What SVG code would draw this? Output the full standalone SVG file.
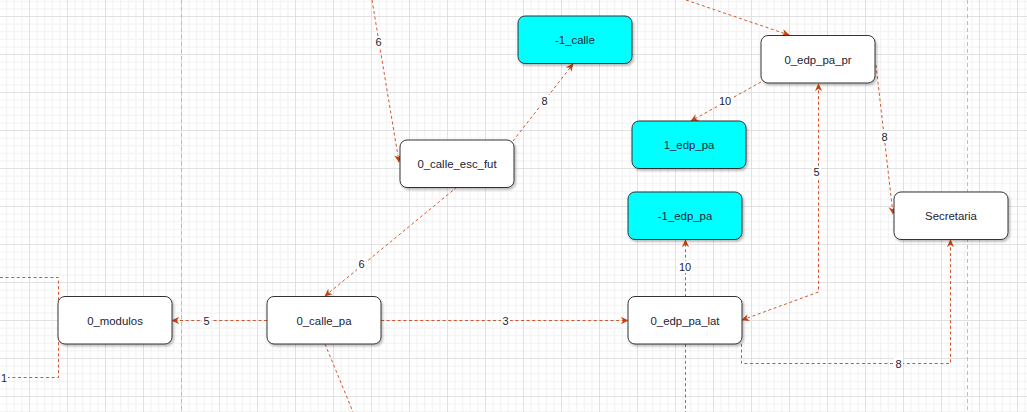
<svg xmlns="http://www.w3.org/2000/svg" width="1027" height="412" viewBox="0 0 1027 412">
  <defs>
    <!-- background grid: major cell 38px, minor step 7.6px -->
    <pattern id="grid" patternUnits="userSpaceOnUse" x="29" y="16" width="38" height="38">
      <rect width="38" height="38" fill="#ffffff"/>
      <g fill="#f2f2f2">
        <rect x="7.6" y="0" width="1" height="38"/>
        <rect x="15.2" y="0" width="1" height="38"/>
        <rect x="22.8" y="0" width="1" height="38"/>
        <rect x="30.4" y="0" width="1" height="38"/>
        <rect x="0" y="7.6" width="38" height="1"/>
        <rect x="0" y="15.2" width="38" height="1"/>
        <rect x="0" y="22.8" width="38" height="1"/>
        <rect x="0" y="30.4" width="38" height="1"/>
      </g>
      <g fill="#e1e1e1">
        <rect x="0" y="0" width="1" height="38"/>
        <rect x="0" y="0" width="38" height="1"/>
      </g>
    </pattern>
    <filter id="shadow" x="-10%" y="-10%" width="130%" height="140%">
      <feDropShadow dx="1.5" dy="2" stdDeviation="0.9" flood-color="#000" flood-opacity="0.25"/>
    </filter>
    <marker id="arrow" viewBox="0 0 10 10" refX="9" refY="5" markerWidth="8" markerHeight="8" markerUnits="userSpaceOnUse" orient="auto-start-reverse">
      <path d="M0,0.5 L10,5 L0,9.5 L3,5 Z" fill="#c8400f"/>
    </marker>
    <style>
      .node rect { stroke: #333333; stroke-width: 1; filter: url(#shadow); }
      .plain rect { fill: #ffffff; }
      .cyan rect { fill: #00ffff; }
      .node text { font-family: "Liberation Sans", Arial, sans-serif; font-size: 11.4px; fill: #222233; text-anchor: middle; }
      .edge { fill: none; stroke: #d4562c; stroke-width: 1; stroke-dasharray: 3 2.6; }
      .arr { marker-end: url(#arrow); }
      .both { marker-start: url(#arrow); marker-end: url(#arrow); }
      .lbl rect { fill: #ffffff; }
      .lbl text { font-family: "Liberation Sans", Arial, sans-serif; font-size: 11px; fill: #222233; text-anchor: middle; }
      .page { stroke: #bdbdbd; stroke-width: 1; stroke-dasharray: 4 3; }
    </style>
  </defs>

  <rect width="1027" height="412" fill="url(#grid)"/>
  <!-- page break lines -->
  <line class="page" x1="181.5" y1="0" x2="181.5" y2="412"/>
  <line class="page" x1="967.5" y1="0" x2="967.5" y2="412"/>

  <g id="connectors">
    <path class="edge arr" d="M372,0 L399,162"/>
    <path class="edge arr" d="M513,141 L573,64"/>
    <path class="edge arr" d="M457,187 L325,296"/>
    <path class="edge arr" d="M267,320.5 L172,320.5"/>
    <path class="edge arr" d="M381,320.5 L628,320.5"/>
    <path class="edge" d="M325,344 L353,412"/>
    <path class="edge" d="M0,277.5 L58.5,277.5 L58.5,377.5 L0,377.5"/>
    <path class="edge arr" d="M686,0 L789,35"/>
    <path class="edge arr" d="M761,82 L691,121"/>
    <path class="edge arr" d="M876,65 L893,214"/>
    <path class="edge both" d="M742,320 L818.5,292 L818.5,84"/>
    <path class="edge arr" d="M685.5,297 L685.5,240"/>
    <path class="edge" d="M685.5,344 L685.5,412"/>
    <path class="edge arr" d="M741.5,344 L741.5,363.5 L950.5,363.5 L950.5,240"/>

    <!-- edge labels -->
    <g class="lbl">
      <rect x="374" y="36" width="9" height="12"/><text x="378.5" y="46">6</text>
      <rect x="540" y="95" width="9" height="12"/><text x="544.5" y="105">8</text>
      <rect x="357" y="258" width="9" height="12"/><text x="361.5" y="268">6</text>
      <rect x="202" y="314" width="9" height="12"/><text x="206.5" y="324.5">5</text>
      <rect x="501" y="314" width="9" height="12"/><text x="505.5" y="324.5">3</text>
      <rect x="0" y="371" width="8" height="12"/><text x="4" y="381.5">1</text>
      <rect x="718" y="95" width="14" height="12"/><text x="725" y="105">10</text>
      <rect x="880" y="131" width="9" height="12"/><text x="884.5" y="141">8</text>
      <rect x="812" y="166" width="9" height="12"/><text x="816.5" y="176">5</text>
      <rect x="678" y="261" width="14" height="12"/><text x="685" y="271">10</text>
      <rect x="894" y="357" width="9" height="12"/><text x="898.5" y="367.5">8</text>
    </g>
  </g>

  <g id="n_0_modulos" class="node plain">
    <rect x="58" y="296.5" width="114" height="47.5" rx="7"/>
    <text x="115" y="324.5">0_modulos</text>
  </g>
  <g id="n_0_calle_pa" class="node plain">
    <rect x="267" y="296.5" width="114" height="47.5" rx="7"/>
    <text x="324" y="324.5">0_calle_pa</text>
  </g>
  <g id="n_0_calle_esc_fut" class="node plain">
    <rect x="400" y="140" width="114" height="47.5" rx="7"/>
    <text x="457" y="168">0_calle_esc_fut</text>
  </g>
  <g id="n_m1_calle" class="node cyan">
    <rect x="518" y="16" width="114" height="47.5" rx="7"/>
    <text x="575" y="44">-1_calle</text>
  </g>
  <g id="n_0_edp_pa_pr" class="node plain">
    <rect x="761" y="35.5" width="114" height="47.5" rx="7"/>
    <text x="818" y="63.5">0_edp_pa_pr</text>
  </g>
  <g id="n_1_edp_pa" class="node cyan">
    <rect x="632" y="121" width="114" height="47.5" rx="7"/>
    <text x="689" y="149">1_edp_pa</text>
  </g>
  <g id="n_m1_edp_pa" class="node cyan">
    <rect x="628" y="192" width="114" height="47.5" rx="7"/>
    <text x="685" y="220">-1_edp_pa</text>
  </g>
  <g id="n_0_edp_pa_lat" class="node plain">
    <rect x="628" y="296.5" width="114" height="47.5" rx="7"/>
    <text x="685" y="324.5">0_edp_pa_lat</text>
  </g>
  <g id="n_secretaria" class="node plain">
    <rect x="894" y="192" width="114" height="47.5" rx="7"/>
    <text x="951" y="220">Secretaria</text>
  </g>
</svg>
